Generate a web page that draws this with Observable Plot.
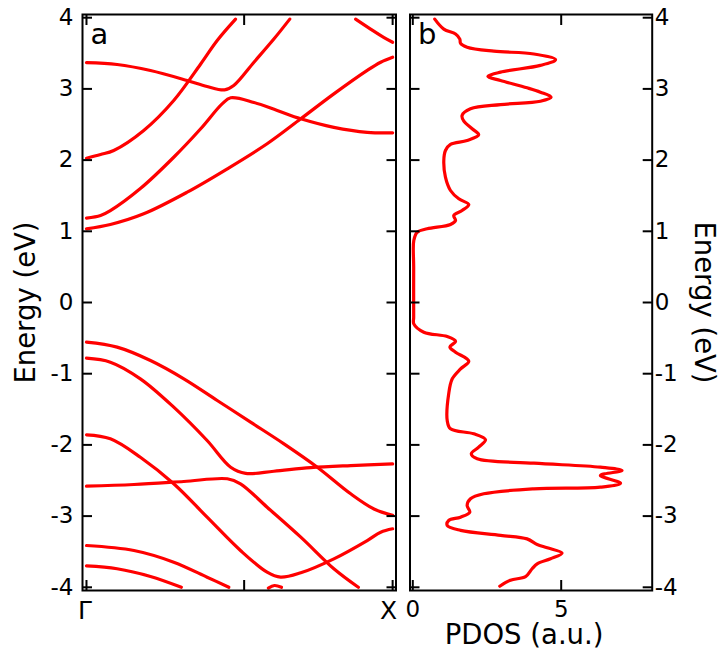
<!DOCTYPE html>
<html><head><meta charset="utf-8">
<script src="https://cdn.jsdelivr.net/npm/d3@7"></script>
<script src="https://cdn.jsdelivr.net/npm/@observablehq/plot@0.6"></script>
<style>
body{margin:0;background:white;}
#wrap{position:relative;width:719px;height:649px;overflow:hidden;background:white;}
#a{position:absolute;left:0;top:0;}
#b{position:absolute;left:402px;top:0;}
</style></head><body><div id="wrap"><div id="a"></div><div id="b"></div></div>
<script>
// ---- Tick values / labels ----
const energyTicks = [-4, -3, -2, -1, 0, 1, 2, 3, 4];
const kTicks = [0, 0.515, 1];
const kTickLabels = ["Γ", "", "X"];
const pdosTicks = [0, 5];

// ---- Band structure (k from Γ=0 to X=1, energy in eV) ----
const bandC1 = [[0,1.035],[0.078,1.095],[0.187,1.245],[0.329,1.549],[0.46,1.877],[0.59,2.229],[0.70,2.58],[0.808,2.93],[0.917,3.26],[0.961,3.375],[1.0,3.445]];
const bandC2 = [[0,1.185],[0.046,1.222],[0.078,1.29],[0.176,1.60],[0.285,2.04],[0.373,2.44],[0.443,2.79],[0.471,2.875],[0.547,2.81],[0.623,2.697],[0.70,2.58],[0.808,2.46],[0.917,2.39],[1.0,2.383]];
const bandC3 = [[0,2.027],[0.046,2.079],[0.089,2.135],[0.187,2.416],[0.285,2.837],[0.373,3.35],[0.427,3.68],[0.487,3.98]];
const bandC4 = [[0,3.37],[0.10,3.343],[0.209,3.258],[0.329,3.118],[0.394,3.034],[0.451,2.987],[0.481,3.048],[0.547,3.375],[0.612,3.70],[0.664,3.98]];
const bandC5 = [[0.879,3.98],[0.928,3.84],[0.972,3.72],[1.0,3.655]];
const bandV1 = [[0,-0.557],[0.10,-0.627],[0.209,-0.815],[0.318,-1.072],[0.427,-1.376],[0.536,-1.68],[0.645,-1.985],[0.754,-2.313],[0.863,-2.687],[0.939,-2.90],[1.0,-2.99]];
const bandV2 = [[0,-0.782],[0.078,-0.838],[0.176,-1.072],[0.285,-1.47],[0.394,-1.938],[0.471,-2.313],[0.52,-2.40],[0.612,-2.37],[0.732,-2.32],[0.863,-2.29],[1.0,-2.266]];
const bandV3 = [[0,-2.58],[0.155,-2.556],[0.318,-2.514],[0.46,-2.476],[0.503,-2.546],[0.59,-2.875],[0.70,-3.296],[0.808,-3.74],[0.888,-4.0]];
const bandV4 = [[0,-1.858],[0.078,-1.914],[0.176,-2.173],[0.285,-2.546],[0.394,-3.015],[0.503,-3.483],[0.59,-3.788],[0.634,-3.858],[0.70,-3.796],[0.808,-3.60],[0.917,-3.343],[0.961,-3.226],[1.0,-3.178]];
const bandV5 = [[0,-3.413],[0.155,-3.483],[0.285,-3.647],[0.394,-3.858],[0.465,-4.0]];
const bandV6 = [[0,-3.70],[0.10,-3.74],[0.209,-3.848],[0.31,-4.0]];
const bandV7 = [[0.594,-4.01],[0.614,-3.975],[0.637,-4.0]];

// ---- PDOS (energy in eV, value in a.u.) ----
const pdosEnergy = [3.98,3.84,3.77,3.70,3.64,3.586,3.53,3.49,3.41,3.33,3.235,3.174,3.118,3.015,2.954,2.884,2.827,2.78,2.72,2.626,2.546,2.44,2.355,2.275,2.22,2.135,1.994,1.76,1.573,1.456,1.376,1.292,1.222,1.152,1.096,1.035,0.987,0.87,0.5,-0.206,-0.30,-0.417,-0.478,-0.543,-0.627,-0.698,-0.824,-0.932,-1.072,-1.282,-1.657,-1.774,-1.844,-1.928,-2.032,-2.125,-2.195,-2.257,-2.313,-2.36,-2.43,-2.537,-2.594,-2.617,-2.687,-2.757,-2.851,-2.945,-3.015,-3.062,-3.132,-3.20,-3.27,-3.32,-3.40,-3.445,-3.52,-3.60,-3.67,-3.74,-3.85,-3.90,-3.985];
const pdosValue = [0.74,1.045,1.44,1.585,1.61,1.83,2.73,4.08,4.81,4.30,2.955,2.53,2.955,3.85,4.30,4.66,4.30,2.955,1.944,1.66,1.72,2.0,2.22,1.83,1.27,1.10,1.045,1.10,1.27,1.55,1.887,1.66,1.38,1.44,1.27,0.485,0.148,0.034,0.03,0.03,0.034,0.37,1.16,1.44,1.25,1.44,1.887,1.61,1.33,1.21,1.16,1.27,2.055,2.45,2.22,1.97,2.17,4.08,6.32,7.05,6.32,7.0,6.32,4.08,2.39,1.944,1.83,1.92,1.61,1.21,1.16,1.61,2.955,3.85,4.19,4.53,5.03,4.64,4.19,4.02,3.80,3.29,2.93];

const bands = [bandC1, bandC2, bandC3, bandC4, bandC5, bandV1, bandV2, bandV3, bandV4, bandV5, bandV6, bandV7];
const pdos = pdosEnergy.map((e, i) => ({energy: e, value: pdosValue[i]}));
const kLabel = d => kTickLabels[kTicks.indexOf(d)];

const RED = "#ff0000";
const FONT = "DejaVu Sans, sans-serif";
const TICK_FS = 23;
const LABEL_FS = 27.5;
const LINE_W = 3.2;
const yDomain = [-4.045, 4.045];

const chartA = Plot.plot({
  width: 402, height: 649,
  marginLeft: 82, marginRight: 6.5, marginTop: 14, marginBottom: 59,
  style: {fontFamily: FONT, background: "white", color: "black"},
  x: {domain: [-0.013, 1.011]},
  y: {domain: yDomain},
  marks: [
    ...bands.map(b => Plot.line(b, {x: d => d[0], y: d => d[1], stroke: RED, strokeWidth: LINE_W, curve: "catmull-rom"})),
    Plot.axisY(energyTicks, {anchor: "left", tickSize: -10, tickPadding: 19, strokeWidth: 2, fontSize: TICK_FS, tickFormat: d => String(d), label: null}),
    Plot.axisY(energyTicks, {anchor: "right", tickSize: -10, strokeWidth: 2, tickFormat: () => "", label: null}),
    Plot.axisX(kTicks, {anchor: "bottom", tickSize: -10, strokeWidth: 2, tickFormat: () => "", label: null}),
    Plot.axisX([kTicks[0]], {anchor: "bottom", tickSize: 0, tickPadding: 11, dx: -1.5, fontSize: 25, tickFormat: kLabel, label: null}),
    Plot.axisX([kTicks[2]], {anchor: "bottom", tickSize: 0, tickPadding: 11, dx: -4, fontSize: 25, tickFormat: kLabel, label: null}),
    Plot.axisX(kTicks, {anchor: "top", tickSize: -10, strokeWidth: 2, tickFormat: () => "", label: null}),
    Plot.frame({stroke: "black", strokeWidth: 2}),
    Plot.text(["a"], {frameAnchor: "top-left", dx: 8, dy: 9, fontSize: 29, textAnchor: "start", lineAnchor: "top"}),
    Plot.text(["Energy (eV)"], {frameAnchor: "left", dx: -56, rotate: -90, fontSize: LABEL_FS, textAnchor: "middle", lineAnchor: "middle"})
  ]
});

const chartB = Plot.plot({
  width: 317, height: 649,
  marginLeft: 7.5, marginRight: 67.3, marginTop: 14, marginBottom: 59,
  style: {fontFamily: FONT, background: "white", color: "black"},
  x: {domain: [-0.094, 8.066]},
  y: {domain: yDomain},
  marks: [
    Plot.line(pdos, {x: "value", y: "energy", stroke: RED, strokeWidth: LINE_W, curve: "catmull-rom"}),
    Plot.axisY(energyTicks, {anchor: "left", tickSize: -10, strokeWidth: 2, tickFormat: () => "", label: null}),
    Plot.axisY(energyTicks, {anchor: "right", tickSize: -10, tickPadding: 12.5, strokeWidth: 2, fontSize: TICK_FS, tickFormat: d => String(d), label: null}),
    Plot.axisX(pdosTicks, {anchor: "bottom", tickSize: -10, tickPadding: 20.5, strokeWidth: 2, fontSize: TICK_FS, tickFormat: d => String(d), label: null}),
    Plot.axisX(pdosTicks, {anchor: "top", tickSize: -10, strokeWidth: 2, tickFormat: () => "", label: null}),
    Plot.frame({stroke: "black", strokeWidth: 2}),
    Plot.text(["b"], {frameAnchor: "top-left", dx: 8, dy: 9, fontSize: 29, textAnchor: "start", lineAnchor: "top"}),
    Plot.text(["PDOS (a.u.)"], {frameAnchor: "bottom", dx: -7, dy: 45, fontSize: LABEL_FS, textAnchor: "middle", lineAnchor: "middle"}),
    Plot.text(["Energy (eV)"], {frameAnchor: "right", dx: 51.5, rotate: 90, fontSize: LABEL_FS, textAnchor: "middle", lineAnchor: "middle"})
  ]
});

document.getElementById("a").appendChild(chartA);
document.getElementById("b").appendChild(chartB);
</script></body></html>
